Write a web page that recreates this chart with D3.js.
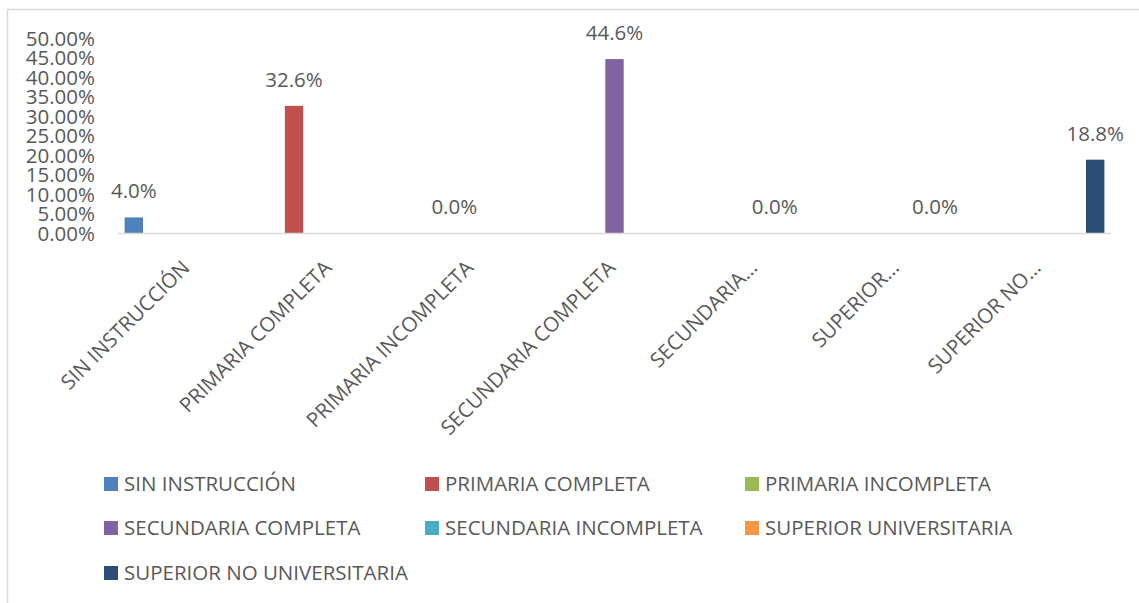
<!DOCTYPE html>
<html>
<head>
<meta charset="utf-8">
<script src="https://cdn.jsdelivr.net/npm/d3@7"></script>
<style>
  html, body { margin: 0; padding: 0; background: #fff; }
  svg { display: block; }
  text { font-family: "Open Sans", "Noto Sans", sans-serif; fill: #595959; }
</style>
</head>
<body>
<svg id="chart" width="1139" height="603"></svg>
<script>
// ---- data ----
const categories = ["SIN INSTRUCCIÓN", "PRIMARIA COMPLETA", "PRIMARIA INCOMPLETA",
  "SECUNDARIA COMPLETA", "SECUNDARIA INCOMPLETA", "SUPERIOR UNIVERSITARIA", "SUPERIOR NO UNIVERSITARIA"];
const axisLabels = ["SIN INSTRUCCIÓN", "PRIMARIA COMPLETA", "PRIMARIA INCOMPLETA",
  "SECUNDARIA COMPLETA", "SECUNDARIA…", "SUPERIOR…", "SUPERIOR NO…"];
const seriesNames = categories.slice();
const values = [0.040, 0.326, 0.000, 0.446, 0.000, 0.000, 0.188];
const valueLabels = ["4.0%", "32.6%", "0.0%", "44.6%", "0.0%", "0.0%", "18.8%"];
const yTicks = [0, 0.05, 0.10, 0.15, 0.20, 0.25, 0.30, 0.35, 0.40, 0.45, 0.50];
const colors = ["#4f81bd", "#c0504d", "#9bbb59", "#8064a2", "#4bacc6", "#f79646", "#2c4d75"];

const svg = d3.select("#chart");

// chart border
svg.append("rect").attr("x", 7.5).attr("y", 9.5).attr("width", 1145).attr("height", 610)
  .attr("fill", "none").attr("stroke", "#d9d9d9").attr("stroke-width", 1.5);

const plotLeft = 118, plotRight = 1111, plotTop = 38, plotBottom = 233;

const x0 = d3.scaleBand().domain(categories).range([plotLeft, plotRight]).padding(0);
const x1 = d3.scaleBand().domain(seriesNames).range([0, x0.bandwidth()]).paddingInner(0).paddingOuter(0.36);
const y = d3.scaleLinear().domain([0, 0.5]).range([plotBottom, plotTop]);

// y axis labels
const yAxis = d3.axisLeft(y).tickValues(yTicks).tickFormat(d3.format(".2%")).tickSize(0).tickPadding(0);
const gy = svg.append("g").attr("transform", `translate(95,0)`).call(yAxis);
gy.select(".domain").remove();
gy.selectAll("text").style("font-size", "20.5px").attr("fill", "#595959")
  .style("font-family", "'Open Sans', sans-serif").attr("dy", "0.36em");

// bars
const barData = categories.map((c, i) => ({ cat: c, series: seriesNames[i], value: values[i], label: valueLabels[i], color: colors[i] }));
svg.append("g").selectAll("rect").data(barData).join("rect")
  .attr("x", d => x0(d.cat) + x1(d.series))
  .attr("width", x1.bandwidth())
  .attr("y", d => y(d.value))
  .attr("height", d => y(0) - y(d.value))
  .attr("fill", d => d.color);

// x axis line
svg.append("line").attr("x1", plotLeft).attr("x2", plotRight)
  .attr("y1", plotBottom + 0.5).attr("y2", plotBottom + 0.5)
  .attr("stroke", "#d9d9d9").attr("stroke-width", 1.5);

// data labels
svg.append("g").selectAll("text").data(barData).join("text")
  .attr("x", d => x0(d.cat) + x1(d.series) + x1.bandwidth() / 2)
  .attr("y", d => y(d.value) - 19)
  .attr("text-anchor", "middle")
  .style("font-size", "20.5px")
  .text(d => d.label);

// category labels, rotated
svg.append("g").selectAll("text").data(categories).join("text")
  .attr("transform", (d) => `translate(${x0(d) + x0.bandwidth() / 2 - 3},${264}) rotate(-45)`)
  .attr("text-anchor", "end")
  .attr("dy", "0.35em")
  .style("font-size", "20.5px")
  .text((d, i) => axisLabels[i]);

// legend
const legendPos = [[104, 484], [425, 484], [745, 484], [104, 528], [425, 528], [745, 528], [104, 573]];
const lg = svg.append("g").selectAll("g").data(seriesNames).join("g")
  .attr("transform", (d, i) => `translate(${legendPos[i][0]},${legendPos[i][1]})`);
lg.append("rect").attr("x", 0).attr("y", -7).attr("width", 14).attr("height", 14)
  .attr("fill", (d, i) => colors[i]);
lg.append("text").attr("x", 20).attr("y", 0).attr("dy", "0.35em")
  .style("font-size", "20.5px").text(d => d);
</script>
</body>
</html>
